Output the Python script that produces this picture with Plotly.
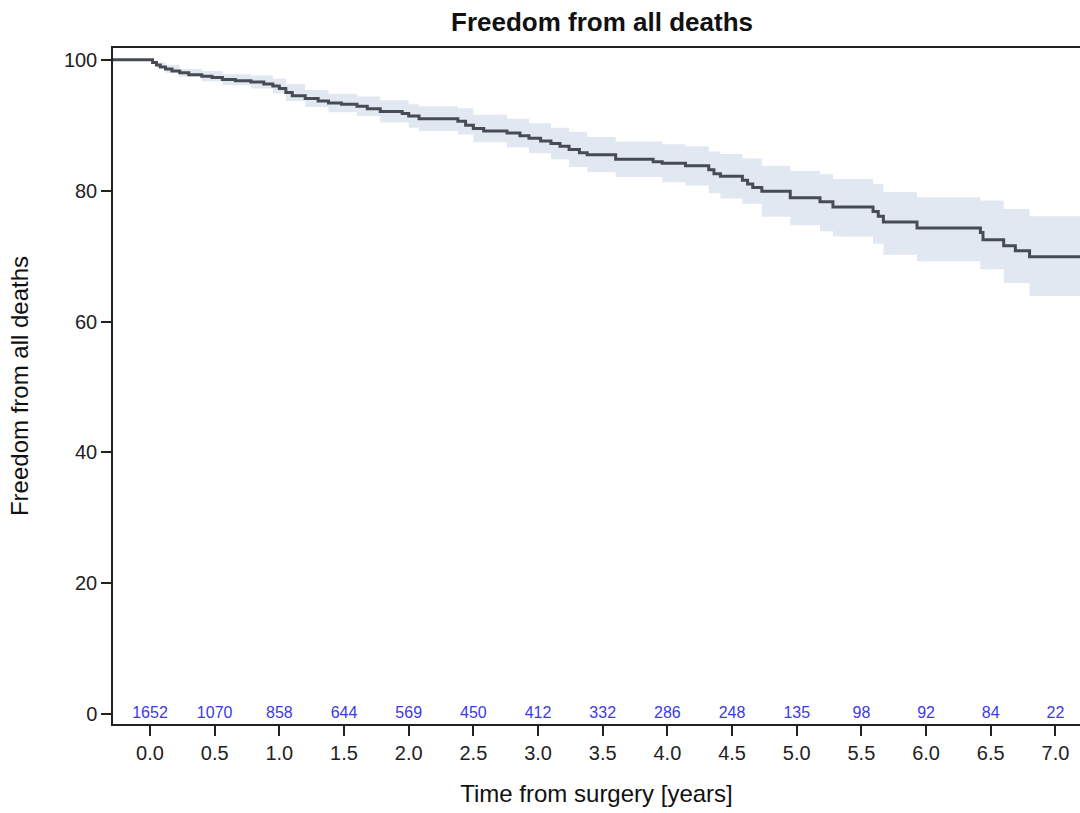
import plotly.graph_objects as go

# Kaplan-Meier step curve (time in years, survival %)
km_time = [-0.29, 0.00, 0.02, 0.05, 0.08, 0.12, 0.17, 0.23, 0.30, 0.40, 0.48, 0.56, 0.66, 0.78,
           0.88, 0.95, 1.00, 1.05, 1.10, 1.20, 1.30, 1.38, 1.48, 1.60, 1.68, 1.78, 1.95, 2.00,
           2.08, 2.38, 2.44, 2.50, 2.58, 2.76, 2.86, 2.93, 3.02, 3.10, 3.17, 3.24, 3.32, 3.38,
           3.60, 3.89, 3.96, 4.14, 4.32, 4.36, 4.41, 4.58, 4.62, 4.66, 4.73, 4.95, 5.18, 5.28,
           5.59, 5.63, 5.67, 5.93, 6.42, 6.44, 6.60, 6.69, 6.80, 7.19]
km_surv = [100, 100, 99.6, 99.2, 98.9, 98.6, 98.3, 98.0, 97.7, 97.5, 97.3, 97.0, 96.8, 96.6,
           96.3, 96.0, 95.6, 95.0, 94.5, 94.1, 93.7, 93.4, 93.2, 92.9, 92.5, 92.1, 91.8, 91.4,
           91.0, 90.6, 90.0, 89.5, 89.1, 88.8, 88.4, 88.0, 87.6, 87.2, 86.8, 86.3, 85.8, 85.5,
           84.8, 84.4, 84.2, 83.8, 83.2, 82.6, 82.2, 81.6, 81.0, 80.5, 79.9, 78.9, 78.3, 77.5,
           76.8, 76.1, 75.2, 74.3, 73.6, 72.5, 71.6, 70.8, 69.9, 69.9]

# Confidence band (stepped)
ci_time = [-0.29, 0.00, 0.05, 0.12, 0.23, 0.40, 0.56, 0.78, 0.95, 1.05, 1.20, 1.38, 1.60, 1.78,
           2.00, 2.08, 2.38, 2.50, 2.76, 2.93, 3.10, 3.24, 3.38, 3.60, 3.96, 4.14, 4.32, 4.41,
           4.58, 4.73, 4.95, 5.18, 5.28, 5.59, 5.67, 5.93, 6.42, 6.60, 6.80, 7.19]
ci_upper = [100, 100, 99.6, 99.2, 98.6, 98.3, 97.8, 97.6, 97.1, 96.3, 95.4, 94.8, 94.4, 93.8,
            93.2, 92.9, 92.6, 91.6, 91.0, 90.3, 89.6, 89.0, 88.2, 87.5, 87.1, 86.8, 86.0, 85.6,
            84.9, 83.8, 83.0, 82.5, 81.8, 81.0, 79.8, 79.0, 78.5, 77.2, 76.1, 76.1]
ci_lower = [100, 100, 98.8, 98.0, 97.4, 96.7, 96.1, 95.6, 94.9, 93.7, 92.8, 92.0, 91.4, 90.4,
            89.6, 89.1, 88.6, 87.4, 86.6, 85.7, 84.8, 83.6, 82.8, 82.1, 81.3, 80.8, 79.6, 78.8,
            78.0, 76.0, 74.7, 73.8, 73.0, 71.9, 70.2, 69.2, 68.0, 65.9, 63.9, 63.9]

# Numbers at risk
risk_time = [0.0, 0.5, 1.0, 1.5, 2.0, 2.5, 3.0, 3.5, 4.0, 4.5, 5.0, 5.5, 6.0, 6.5, 7.0]
risk_n = [1652, 1070, 858, 644, 569, 450, 412, 332, 286, 248, 135, 98, 92, 84, 22]

x_ticks = [0.0, 0.5, 1.0, 1.5, 2.0, 2.5, 3.0, 3.5, 4.0, 4.5, 5.0, 5.5, 6.0, 6.5, 7.0]
y_ticks = [0, 20, 40, 60, 80, 100]

FONT = "Liberation Sans, Arial, sans-serif"

fig = go.Figure()
fig.add_trace(go.Scatter(x=ci_time, y=ci_upper, mode="lines", line=dict(width=0, shape="hv"),
                         hoverinfo="skip", showlegend=False))
fig.add_trace(go.Scatter(x=ci_time, y=ci_lower, mode="lines", line=dict(width=0, shape="hv"),
                         fill="tonexty", fillcolor="#e2e8f1", hoverinfo="skip", showlegend=False))
fig.add_trace(go.Scatter(x=km_time, y=km_surv, mode="lines",
                         line=dict(color="#474c54", width=3, shape="hv"), showlegend=False))
fig.add_trace(go.Scatter(x=risk_time, y=[0] * len(risk_time), mode="text",
                         text=[str(n) for n in risk_n],
                         textfont=dict(family=FONT, size=16, color="#3a3ae8"),
                         textposition="middle center", showlegend=False, hoverinfo="skip"))

fig.update_layout(
    width=1080, height=813,
    margin=dict(l=113, r=0, t=48, b=89),
    paper_bgcolor="white", plot_bgcolor="white",
    font=dict(family=FONT, color="#1a1a1a"),
    title=dict(text="<b>Freedom from all deaths</b>", x=602 / 1080, xanchor="center",
               y=1 - 22 / 813, yanchor="middle", yref="container",
               font=dict(family=FONT, size=26, color="#111111")),
)
fig.update_xaxes(range=[-0.286, 7.19], tickvals=x_ticks, ticktext=[f"{v:.1f}" for v in x_ticks],
                 ticks="outside", ticklen=10, tickwidth=1.5, tickcolor="#222222",
                 showline=True, linecolor="#222222", linewidth=1.5, mirror=True,
                 showgrid=False, zeroline=False,
                 tickfont=dict(family=FONT, size=20, color="#222222"),
                 title=dict(text="Time from surgery [years]", standoff=22,
                            font=dict(family=FONT, size=24, color="#111111")))
fig.update_yaxes(range=[-1.5, 101.8], tickvals=y_ticks,
                 ticks="outside", ticklen=10, tickwidth=1.5, tickcolor="#222222",
                 showline=True, linecolor="#222222", linewidth=1.5,
                 showgrid=False, zeroline=False,
                 tickfont=dict(family=FONT, size=20, color="#222222"),
                 title=dict(text="Freedom from all deaths", standoff=28,
                            font=dict(family=FONT, size=24, color="#111111")))

fig.write_html("out.html", config={"displayModeBar": False},
               post_script="document.body.style.margin='0';document.body.style.overflow='hidden';")
